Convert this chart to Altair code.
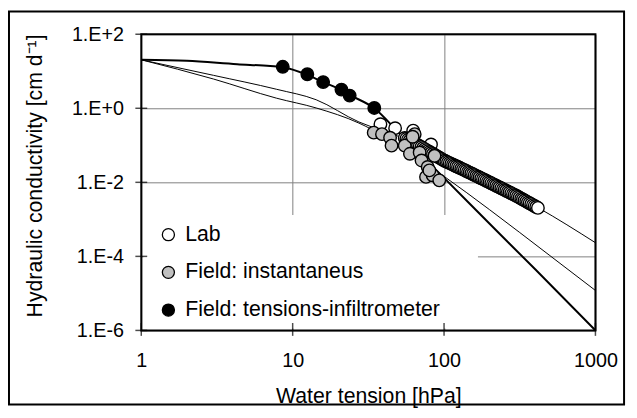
import altair as alt
import pandas as pd

FONT = "Liberation Sans"

# ---------------- data ----------------
series_names = ["Lab", "Field: instantaneus", "Field: tensions-infiltrometer"]
series_fill = ["white", "#c0c0c0", "black"]

# Field: tensions-infiltrometer (black)
tension_x = [8.6, 12.5, 15.9, 21.0, 23.8, 34.6]
tension_k = [13.2, 8.3, 5.1, 3.2, 2.2, 1.02]

# Field: instantaneus (grey)
field_x = [34.3, 38.9, 44, 45, 55, 59.5, 64, 69, 71, 78, 86.5, 76, 84, 93, 80, 62]
field_k = [0.22, 0.20, 0.16, 0.098, 0.098, 0.059, 0.20, 0.064, 0.039, 0.026,
           0.052, 0.014, 0.0155, 0.0113, 0.021, 0.17]

# Lab (white): a few scattered points, then the dense trail
lab_x = [38, 47.5, 62.5, 82,
         55.0, 56.4, 57.8, 59.3, 60.8, 62.4, 64.0, 65.6, 67.3, 69.0,
         70.8, 72.6, 74.5, 76.4, 78.3, 80.4, 82.4, 84.5, 86.7, 88.9,
         91.2, 93.5, 95.9, 98.4, 100.9, 103.5, 106.2, 108.9, 111.7, 114.6,
         117.5, 120.5, 123.6, 126.8, 130.0, 133.4, 136.8, 140.3, 143.9, 147.6,
         151.4, 155.2, 159.2, 163.3, 167.5, 171.8, 176.2, 180.7, 185.4, 190.1,
         195.0, 200.0, 205.1, 210.4, 215.8, 221.3, 227.0, 232.8, 238.8, 244.9,
         251.2, 257.6, 264.2, 271.0, 278.0, 285.1, 292.4, 299.9, 307.6, 315.5,
         323.6, 331.9, 340.4, 349.1, 358.1, 367.3, 376.7, 386.4, 396.3, 406.4,
         416.9]
lab_k = [0.37, 0.29, 0.25, 0.105,
         0.158, 0.150, 0.141, 0.133, 0.126, 0.119, 0.112, 0.106, 0.100, 0.0944,
         0.0891, 0.0839, 0.0789, 0.0743, 0.0698, 0.0658, 0.0619, 0.0582, 0.0548, 0.0515,
         0.0485, 0.0457, 0.0430, 0.0405, 0.0382, 0.0364, 0.0347, 0.0330, 0.0315, 0.0300,
         0.0285, 0.0272, 0.0259, 0.0247, 0.0235, 0.0224, 0.0213, 0.0202, 0.0192, 0.0183,
         0.0174, 0.0165, 0.0157, 0.0149, 0.0142, 0.0135, 0.0128, 0.0122, 0.0116, 0.0110,
         0.01045, 0.00993, 0.00942, 0.00895, 0.00849, 0.00807, 0.00766, 0.00728, 0.00690, 0.00656,
         0.00622, 0.00592, 0.00561, 0.00533, 0.00506, 0.00481, 0.00456, 0.00434, 0.00409, 0.00386,
         0.00364, 0.00344, 0.00324, 0.00305, 0.00288, 0.00272, 0.00257, 0.00242, 0.00229, 0.00216,
         0.00204]

# fitted curves
fit_tension_x = [1, 2, 4.3, 7.1, 8.65, 12.5, 15.9, 21, 23.8, 34.6, 50, 70, 100, 200, 400, 1000]
fit_tension_k = [20.4, 19.1, 15.5, 13.8, 12.9, 8.0, 5.1, 3.1, 2.3, 1.0, 0.224, 0.0562,
                 0.0132, 7.6e-4, 4.47e-5, 1e-6]

fit_lab_x = [1, 3, 7.8, 14.3, 27.4, 40, 55, 100, 200, 420, 1000]
fit_lab_k = [20.4, 7.76, 3.27, 1.70, 0.427, 0.240, 0.151, 0.0389, 0.0100, 0.00204, 2.34e-4]

fit_field_x = [1, 3, 7.8, 14.3, 27.4, 40, 60, 100, 200, 500, 1000]
fit_field_k = [20.4, 6.17, 1.88, 1.02, 0.398, 0.178, 0.0603, 0.0145, 0.00182, 1.05e-4, 1.2e-5]

x_ticks = [1, 10, 100, 1000]
y_ticks = [1e-6, 1e-4, 1e-2, 1, 100]

# ---------------- tables ----------------
points = pd.concat([
    pd.DataFrame({"x": lab_x, "y": lab_k, "series": series_names[0]}),
    pd.DataFrame({"x": field_x, "y": field_k, "series": series_names[1]}),
    pd.DataFrame({"x": tension_x, "y": tension_k, "series": series_names[2]}),
], ignore_index=True)
points["ord"] = range(len(points))

line_t = pd.DataFrame({"x": fit_tension_x, "y": fit_tension_k})
line_l = pd.DataFrame({"x": fit_lab_x, "y": fit_lab_k})
line_f = pd.DataFrame({"x": fit_field_x, "y": fit_field_k})
xt = pd.DataFrame({"x": x_ticks})
yt = pd.DataFrame({"y": y_ticks})
one = pd.DataFrame({"a": [0]})

# ---------------- scales / axes ----------------
xs = alt.Scale(type="log", domain=[1, 1000], nice=False)
ys = alt.Scale(type="log", domain=[1e-6, 100], nice=False)

x_axis = alt.Axis(values=x_ticks, format="d", title="Water tension [hPa]",
                  grid=True, gridColor="#808080", gridWidth=1, domain=False,
                  ticks=False, tickSize=0, labelPadding=21, labelFontSize=20,
                  labelFont=FONT, labelColor="black", labelFlush=False,
                  labelOverlap=False, titleFont=FONT, titleFontSize=21.5,
                  titleFontWeight="normal", titleColor="black",
                  titleX=230, titleY=73, titleBaseline="alphabetic", titleAlign="center")
y_axis = alt.Axis(values=y_ticks, title="Hydraulic conductivity [cm d⁻¹]",
                  labelExpr="'1.E' + (datum.value >= 1 ? '+' : '-') + format(abs(log(datum.value)/LN10), '.0f')",
                  grid=True, gridColor="#808080", gridWidth=1, domain=False,
                  ticks=False, tickSize=0, labelPadding=18, labelFontSize=20,
                  labelFont=FONT, labelColor="black", labelFlush=False,
                  labelOverlap=False, titleFont=FONT, titleFontSize=21.5,
                  titleFontWeight="normal", titleColor="black",
                  titleX=-101, titleY=143, titleAngle=270,
                  titleBaseline="alphabetic", titleAlign="center")

X = alt.X("x:Q", scale=xs, axis=x_axis)
Y = alt.Y("y:Q", scale=ys, axis=y_axis)

# ---------------- layers ----------------
legend_bg = alt.Chart(one).mark_rect(fill="white").encode(
    x=alt.value(2), x2=alt.value(341), y=alt.value(183), y2=alt.value(298))

def fit_line(df, w):
    return alt.Chart(df).mark_line(color="black", strokeWidth=w, interpolate="monotone",
                                   clip=True).encode(x=X, y=Y)

pts = alt.Chart(points).mark_point(shape="circle", filled=True, stroke="black",
                                   strokeWidth=1.4, size=160, opacity=1).encode(
    x=X, y=Y,
    fill=alt.Fill("series:N",
                  scale=alt.Scale(domain=series_names, range=series_fill),
                  legend=alt.Legend(orient="none", legendX=16.7, legendY=192.25,
                                    title=None, labelFont=FONT, labelFontSize=21.5,
                                    labelColor="black", labelLimit=0, symbolType="circle",
                                    symbolSize=150, symbolStrokeColor="black",
                                    symbolStrokeWidth=1.3, rowPadding=15.2,
                                    labelOffset=6.3, padding=0, symbolOpacity=1)),
    order=alt.Order("ord:Q"))

xtick = alt.Chart(xt).mark_tick(orient="vertical", color="black", size=13,
                                thickness=1.5).encode(x=X, y=alt.value(299))
ytick = alt.Chart(yt).mark_tick(orient="horizontal", color="black", size=12,
                                thickness=1.5).encode(y=Y, x=alt.value(0))

frame = alt.Chart(one).mark_rect(fill="transparent", stroke="black", strokeWidth=2).encode(
    x=alt.value(0), x2=alt.value(460), y=alt.value(0), y2=alt.value(300))
outer = alt.Chart(one).mark_rect(fill="transparent", stroke="black", strokeWidth=2).encode(
    x=alt.value(-134), x2=alt.value(489), y=alt.value(-23), y2=alt.value(375))

chart = alt.layer(
    legend_bg,
    fit_line(line_l, 1), fit_line(line_f, 1), fit_line(line_t, 2),
    pts, xtick, ytick, frame, outer
).properties(
    width=460, height=300,
    autosize=alt.AutoSizeParams(type="none"),
    padding={"left": 135, "top": 24, "right": 34, "bottom": 76},
).configure_view(stroke=None).configure(font=FONT, background="white")

chart.save("out.html", embed_options={"renderer": "svg", "actions": False})
